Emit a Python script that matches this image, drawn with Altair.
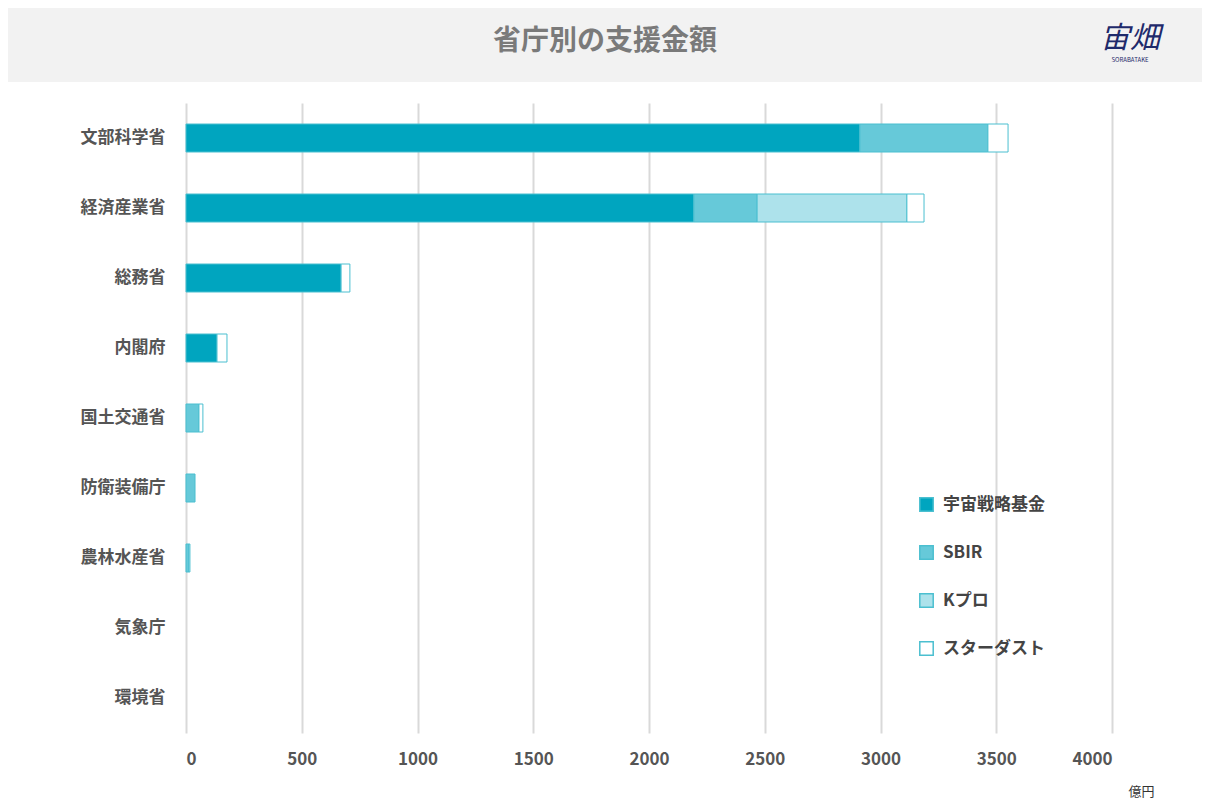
import altair as alt
import pandas as pd

ministries = ["文部科学省", "経済産業省", "総務省", "内閣府", "国土交通省",
              "防衛装備庁", "農林水産省", "気象庁", "環境省"]
series = ["宇宙戦略基金", "SBIR", "Kプロ", "スターダスト"]
colors = ["#00a5bf", "#66c9d9", "#ade2eb", "#ffffff"]

fund = [2911, 2194, 670, 134, 0, 0, 0, 0, 0]
sbir = [553, 273, 0, 0, 56, 39, 13, 0, 0]
kpro = [0, 647, 0, 0, 0, 0, 0, 0, 0]
stardust = [87, 74, 38, 43, 17, 0, 4, 0, 0]

rows = []
for i, m in enumerate(ministries):
    for j, vals in enumerate([fund, sbir, kpro, stardust]):
        if vals[i] > 0:
            rows.append({"省庁": m, "区分": series[j], "額": vals[i], "順": j})
df = pd.DataFrame(rows)

font = "Noto Sans CJK JP"
one = pd.DataFrame({"t": ["省庁別の支援金額"]})

# grey header band, drawn above the plot area
band = alt.Chart(one).mark_rect(color="#f2f2f2", clip=False).encode(
    x=alt.value(-178), x2=alt.value(1016), y=alt.value(-95), y2=alt.value(-21))
title = alt.Chart(one).mark_text(
    font=font, fontSize=28, fontWeight="bold", color="#7a7a7a"
).encode(x=alt.value(419), y=alt.value(-61), text="t:N")
logo = alt.Chart(pd.DataFrame({"t": ["宙畑"]})).mark_text(
    font=font, fontSize=30, color="#1f2a6b", fontStyle="italic"
).encode(x=alt.value(944), y=alt.value(-64), text="t:N")
logo2 = alt.Chart(pd.DataFrame({"t": ["SORABATAKE"]})).mark_text(
    font=font, fontSize=6, color="#1f2a6b"
).encode(x=alt.value(944), y=alt.value(-43), text="t:N")

bars = alt.Chart(df).mark_bar(height=28, stroke="#4bbfd0", strokeWidth=1).encode(
    y=alt.Y("省庁:N", title=None, scale=alt.Scale(domain=ministries),
            axis=alt.Axis(labelFont=font, labelFontSize=17, labelFontWeight="bold",
                          labelColor="#555555", domain=False, ticks=False,
                          labelPadding=21, minExtent=170)),
    x=alt.X("sum(額):Q", title="億円", stack="zero",
            scale=alt.Scale(domain=[0, 4000], nice=False),
            axis=alt.Axis(values=list(range(0, 4001, 500)), format="d", labelFont=font,
                          labelFontSize=17, labelFontWeight="bold", labelColor="#555555",
                          domain=False, ticks=False, gridColor="#d9d9d9", gridWidth=2,
                          labelPadding=18, titleFont=font, titleFontSize=13,
                          titleFontWeight="normal", titleColor="#333333",
                          titleX=955, titleY=52)),
    color=alt.Color("区分:N", sort=series,
                    scale=alt.Scale(domain=series, range=colors),
                    legend=alt.Legend(title=None, orient="none", legendX=732, legendY=393,
                                      symbolType="square", symbolSize=180,
                                      symbolStrokeColor="#4bbfd0", symbolStrokeWidth=1.5,
                                      labelFont=font, labelFontSize=17,
                                      labelFontWeight="bold", labelColor="#444444",
                                      rowPadding=27, labelOffset=8)),
    order=alt.Order("順:Q"),
)

chart = (band + title + logo + logo2 + bars).properties(
    width=926, height=630, padding=0).configure_view(stroke=None)
chart.save("out.html", embed_options={"renderer": "svg", "actions": False})
